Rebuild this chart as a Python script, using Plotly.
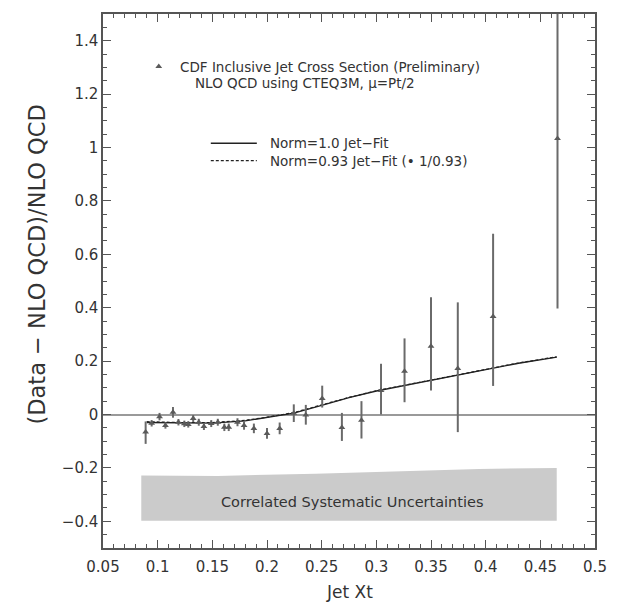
import plotly.graph_objects as go

# ---- data ----
xt = [0.089, 0.0945, 0.1017, 0.1071, 0.114, 0.119, 0.1244, 0.128, 0.1325, 0.1376,
      0.1423, 0.149, 0.155, 0.161, 0.165, 0.173, 0.179, 0.188, 0.200, 0.2116,
      0.2245, 0.2355, 0.2505, 0.2685, 0.2864, 0.3043, 0.3258, 0.350, 0.3745, 0.4068, 0.4657]
ratio = [-0.066, -0.033, -0.008, -0.041, 0.008, -0.029, -0.035, -0.037, -0.015, -0.029,
         -0.045, -0.034, -0.029, -0.048, -0.048, -0.029, -0.041, -0.052, -0.071, -0.052,
         0.005, -0.002, 0.060, -0.049, -0.022, 0.090, 0.162, 0.256, 0.172, 0.367, 1.034]
err_up = [0.040, 0.012, 0.014, 0.012, 0.020, 0.012, 0.012, 0.012, 0.013, 0.013,
          0.013, 0.013, 0.013, 0.014, 0.014, 0.015, 0.016, 0.018, 0.020, 0.022,
          0.033, 0.038, 0.048, 0.055, 0.072, 0.100, 0.123, 0.183, 0.248, 0.310, 0.637]
err_dn = [0.044, 0.012, 0.014, 0.012, 0.020, 0.012, 0.012, 0.012, 0.013, 0.013,
          0.013, 0.013, 0.013, 0.014, 0.014, 0.015, 0.016, 0.018, 0.020, 0.022,
          0.033, 0.036, 0.034, 0.050, 0.068, 0.090, 0.116, 0.166, 0.238, 0.260, 0.637]

fit_x = [0.09, 0.12, 0.15, 0.18, 0.20, 0.2245, 0.25, 0.275, 0.30, 0.325, 0.35, 0.375, 0.40, 0.43, 0.465]
fit_norm1 = [-0.030, -0.032, -0.032, -0.024, -0.012, 0.005, 0.034, 0.063, 0.088, 0.108, 0.130, 0.150, 0.170, 0.192, 0.215]
fit_norm093 = [-0.027, -0.030, -0.030, -0.022, -0.010, 0.007, 0.036, 0.064, 0.089, 0.109, 0.131, 0.151, 0.171, 0.193, 0.216]

band_x = [0.085, 0.155, 0.2445, 0.334, 0.394, 0.465]
band_top = [-0.228, -0.230, -0.222, -0.210, -0.204, -0.200]
band_bottom = [-0.398, -0.398, -0.398, -0.398, -0.398, -0.398]

x_ticks = [0.05, 0.1, 0.15, 0.2, 0.25, 0.3, 0.35, 0.4, 0.45, 0.5]
x_ticklabels = ["0.05", "0.1", "0.15", "0.2", "0.25", "0.3", "0.35", "0.4", "0.45", "0.5"]
y_ticks = [-0.4, -0.2, 0, 0.2, 0.4, 0.6, 0.8, 1.0, 1.2, 1.4]
y_ticklabels = ["\u22120.4", "\u22120.2", "0", "0.2", "0.4", "0.6", "0.8", "1", "1.2", "1.4"]

FONT = "DejaVu Sans"
GREY = "#5a5a5a"
TXT = "#333333"

fig = go.Figure()

# systematic band
fig.add_trace(go.Scatter(
    x=band_x + band_x[::-1], y=band_top + band_bottom[::-1],
    fill="toself", fillcolor="#cbcbcb", line=dict(width=0), mode="lines",
    hoverinfo="skip", showlegend=False))

# fits
fig.add_trace(go.Scatter(x=fit_x, y=fit_norm1, mode="lines",
                         line=dict(color="#222222", width=1.3), showlegend=False))
fig.add_trace(go.Scatter(x=fit_x, y=fit_norm093, mode="lines",
                         line=dict(color="#222222", width=1.2, dash="3px,2px"), showlegend=False))

# data
fig.add_trace(go.Scatter(
    x=xt, y=ratio, mode="markers",
    marker=dict(symbol="triangle-up", size=6, color=GREY),
    error_y=dict(type="data", symmetric=False, array=err_up, arrayminus=err_dn,
                 color="#6a6a6a", thickness=2, width=0),
    showlegend=False))

# legend marker
fig.add_trace(go.Scatter(x=[0.101], y=[1.303], mode="markers",
                         marker=dict(symbol="triangle-up", size=6, color=GREY),
                         showlegend=False, hoverinfo="skip"))

shapes = [
    dict(type="line", xref="x", yref="y", x0=0.1486, x1=0.1907, y0=1.016, y1=1.016,
         line=dict(color="#222222", width=1.3)),
    dict(type="line", xref="x", yref="y", x0=0.1486, x1=0.1907, y0=0.951, y1=0.951,
         line=dict(color="#222222", width=1.1, dash="3px,2px")),
]

LEG = 13.5
annotations = [
    dict(x=0.1184, y=1.303, xref="x", yref="y", xanchor="left", yanchor="middle",
         text="CDF Inclusive Jet Cross Section (Preliminary)", showarrow=False,
         font=dict(family=FONT, size=LEG, color=TXT)),
    dict(x=0.1325, y=1.243, xref="x", yref="y", xanchor="left", yanchor="middle",
         text="NLO QCD using CTEQ3M, \u03bc=Pt/2", showarrow=False,
         font=dict(family=FONT, size=LEG, color=TXT)),
    dict(x=0.2012, y=1.016, xref="x", yref="y", xanchor="left", yanchor="middle",
         text="Norm=1.0 Jet\u2212Fit", showarrow=False,
         font=dict(family=FONT, size=LEG, color=TXT)),
    dict(x=0.2012, y=0.951, xref="x", yref="y", xanchor="left", yanchor="middle",
         text="Norm=0.93 Jet\u2212Fit (\u2022 1/0.93)", showarrow=False,
         font=dict(family=FONT, size=LEG, color=TXT)),
    dict(x=0.2786, y=-0.326, xref="x", yref="y", xanchor="center", yanchor="middle",
         text="Correlated Systematic Uncertainties", showarrow=False,
         font=dict(family=FONT, size=14.5, color=TXT)),
    dict(x=-0.135, y=0.56, xref="paper", yref="y", xanchor="center", yanchor="middle",
         text="(Data \u2212 NLO QCD)/NLO QCD", textangle=-90, showarrow=False,
         font=dict(family=FONT, size=22.5, color=TXT)),
    dict(x=0.5, y=-0.083, xref="paper", yref="paper", xanchor="center", yanchor="middle",
         text="Jet Xt", showarrow=False,
         font=dict(family=FONT, size=17, color=TXT)),
]

axis_common = dict(
    showline=True, linecolor="#555555", linewidth=1.5, mirror="ticks",
    ticks="inside", ticklen=8, tickwidth=1.2, tickcolor="#555555",
    showgrid=False, tickfont=dict(family=FONT, size=15, color=TXT),
)

fig.update_xaxes(range=[0.05, 0.5], tickvals=x_ticks, ticktext=x_ticklabels,
                 minor=dict(dtick=0.01, ticks="inside", ticklen=4, tickcolor="#555555", tickwidth=1),
                 zeroline=False, ticklabelstandoff=4,
                 **axis_common)
fig.update_yaxes(range=[-0.5, 1.5], tickvals=y_ticks, ticktext=y_ticklabels,
                 minor=dict(dtick=0.05, ticks="inside", ticklen=4, tickcolor="#555555", tickwidth=1),
                 zeroline=True, zerolinecolor="#9a9a9a", zerolinewidth=2,
                 **axis_common)

fig.update_layout(
    width=619, height=603,
    margin=dict(l=103, r=14, t=14, b=55),
    plot_bgcolor="white", paper_bgcolor="white",
    shapes=shapes, annotations=annotations,
    font=dict(family=FONT, color=TXT),
)

fig.write_html("out.html")
